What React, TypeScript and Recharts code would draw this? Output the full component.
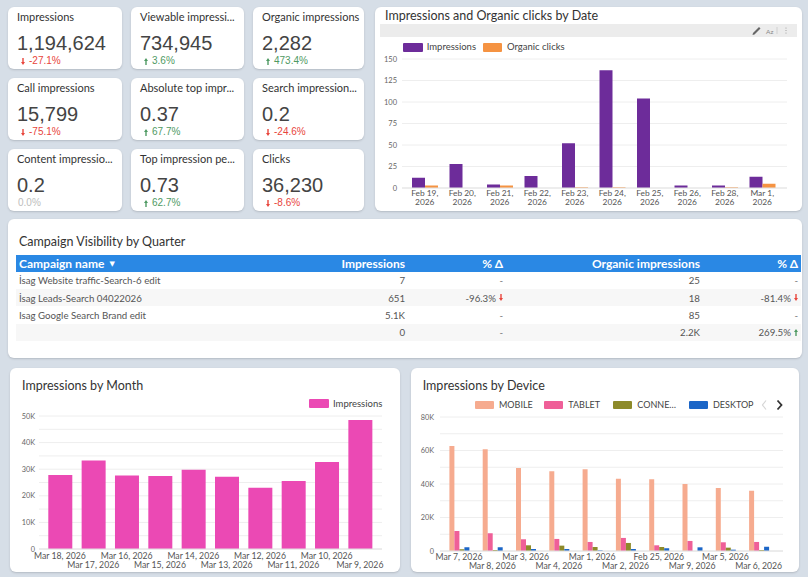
import React from 'react';
import { BarChart, Bar, XAxis, YAxis, CartesianGrid } from 'recharts';

// ---------------- KPI scorecards ----------------
const kpiTitles = [
  'Impressions',
  'Viewable impressi...',
  'Organic impressions',
  'Call impressions',
  'Absolute top impr...',
  'Search impression...',
  'Content impressio...',
  'Top impression pe...',
  'Clicks',
];
const kpiValues = ['1,194,624', '734,945', '2,282', '15,799', '0.37', '0.2', '0.2', '0.73', '36,230'];
const kpiDeltas = ['-27.1%', '3.6%', '473.4%', '-75.1%', '67.7%', '-24.6%', '0.0%', '62.7%', '-8.6%'];
const kpiDirections = ['down', 'up', 'up', 'down', 'up', 'down', 'flat', 'up', 'down'];

// ---------------- Impressions and Organic clicks by Date ----------------
const dateLabels = [
  'Feb 19, 2026', 'Feb 20, 2026', 'Feb 21, 2026', 'Feb 22, 2026', 'Feb 23, 2026',
  'Feb 24, 2026', 'Feb 25, 2026', 'Feb 26, 2026', 'Feb 28, 2026', 'Mar 1, 2026',
];
const dateImpressions = [12, 28, 4, 14, 52, 137, 104, 3, 3, 13];
const dateOrganicClicks = [3, 0, 3, 0, 1, 1, 0, 0, 1, 5];
const dateTicks = [0, 25, 50, 75, 100, 125, 150];

// ---------------- Campaign table ----------------
const campaignNames = ['İsag Website traffic-Search-6 edit', 'İsag Leads-Search 04022026', 'Isag Google Search Brand edit', ''];
const campaignImpressions = ['7', '651', '5.1K', '0'];
const campaignImpressionsDelta = ['-', '-96.3%', '-', '-'];
const campaignOrganic = ['25', '18', '85', '2.2K'];
const campaignOrganicDelta = ['-', '-81.4%', '-', '269.5%'];

// ---------------- Impressions by Month ----------------
const monthLabels = [
  'Mar 18, 2026', 'Mar 17, 2026', 'Mar 16, 2026', 'Mar 15, 2026', 'Mar 14, 2026',
  'Mar 13, 2026', 'Mar 12, 2026', 'Mar 11, 2026', 'Mar 10, 2026', 'Mar 9, 2026',
];
const monthImpressions = [27800, 33300, 27600, 27400, 29800, 27200, 23000, 25600, 32700, 48500];
const monthTicks = [0, 5000, 10000, 15000, 20000, 25000, 30000, 35000, 40000, 45000, 50000];

// ---------------- Impressions by Device ----------------
const deviceLabels = [
  'Mar 7, 2026', 'Mar 8, 2026', 'Mar 3, 2026', 'Mar 4, 2026', 'Mar 1, 2026',
  'Mar 2, 2026', 'Feb 25, 2026', 'Mar 9, 2026', 'Mar 5, 2026', 'Mar 6, 2026',
];
const deviceMobile = [62700, 60700, 49600, 47600, 48800, 43200, 42800, 40000, 37600, 36000];
const deviceTablet = [12000, 10600, 7000, 7200, 5400, 7800, 3400, 6000, 5200, 5400];
const deviceConnected = [1000, 600, 3400, 3200, 2400, 4800, 2400, 0, 2000, 600];
const deviceDesktop = [2200, 2200, 1200, 1200, 400, 1200, 1600, 2200, 800, 2600];
const deviceTicks = [0, 10000, 20000, 30000, 40000, 50000, 60000, 70000, 80000];
const deviceLegend = ['MOBILE', 'TABLET', 'CONNE…', 'DESKTOP'];

// ---------------- styles ----------------
const FONT = 'Lato, "Open Sans", "DejaVu Sans", sans-serif';
const NUM_FONT = '"Liberation Sans", Arial, sans-serif';
const RED = '#e8453c';
const GREEN = '#4f9a63';
const PURPLE = '#6d2c9a';
const ORANGE = '#f59342';
const PINK = '#eb49b4';
const C_MOBILE = '#f6ab8f';
const C_TABLET = '#ef5f98';
const C_CONN = '#8d8a2a';
const C_DESK = '#1c66c7';

const cardStyle = (left: number, top: number, width: number, height: number): React.CSSProperties => ({
  position: 'absolute',
  left,
  top,
  width,
  height,
  background: '#ffffff',
  borderRadius: 6,
  boxShadow: '0 1px 2px rgba(60,64,67,0.22)',
  overflow: 'hidden',
});

function DeltaArrow({ up, color }: { up: boolean; color: string }) {
  return (
    <svg width={4} height={7} viewBox="0 0 4 7" style={{ display: 'block' }}>
      {up ? (
        <path d="M2 0 L4 3 L2.7 3 L2.7 7 L1.3 7 L1.3 3 L0 3 Z" fill={color} />
      ) : (
        <path d="M2 7 L4 4 L2.7 4 L2.7 0 L1.3 0 L1.3 4 L0 4 Z" fill={color} />
      )}
    </svg>
  );
}

function KpiCard({ i }: { i: number }) {
  const col = i % 3;
  const row = Math.floor(i / 3);
  const lefts = [8, 131, 253];
  const widths = [114, 113, 111];
  const tops = [7, 78, 149];
  const dir = kpiDirections[i];
  const color = dir === 'up' ? GREEN : dir === 'down' ? RED : '#bdbdbd';
  return (
    <div style={cardStyle(lefts[col], tops[row], widths[col], 62)}>
      <div style={{ position: 'absolute', left: 9, top: 3, fontFamily: FONT, fontSize: 11, lineHeight: '14px', color: '#333', whiteSpace: 'nowrap' }}>
        {kpiTitles[i]}
      </div>
      <div style={{ position: 'absolute', left: 9, top: 26, fontFamily: NUM_FONT, fontSize: 20, lineHeight: '20px', color: '#444', whiteSpace: 'nowrap' }}>
        {kpiValues[i]}
      </div>
      <div
        style={{
          position: 'absolute',
          left: dir === 'flat' ? 10 : 13,
          top: 49,
          display: 'flex',
          alignItems: 'center',
          gap: 4,
          fontFamily: NUM_FONT,
          fontSize: 10,
          lineHeight: '10px',
          color,
          whiteSpace: 'nowrap',
        }}
      >
        {dir !== 'flat' && <DeltaArrow up={dir === 'up'} color={color} />}
        <span>{kpiDeltas[i]}</span>
      </div>
    </div>
  );
}

function TwoLineTick(props: any) {
  const { x, y, payload } = props;
  const parts = String(payload.value).split(', ');
  return (
    <g>
      <text x={x} y={y + 8.2} textAnchor="middle" fontSize={8.4} fill="#555" fontFamily={FONT}>
        {parts[0] + ','}
      </text>
      <text x={x} y={y + 16.8} textAnchor="middle" fontSize={8.4} fill="#555" fontFamily={FONT}>
        {parts[1]}
      </text>
    </g>
  );
}

function StaggerTick(props: any) {
  const { x, y, payload, index, dy1, dy2 } = props;
  const dy = index % 2 === 0 ? dy1 : dy2;
  return (
    <text x={x} y={y + dy} textAnchor="middle" fontSize={8.7} fill="#555" fontFamily={FONT}>
      {payload.value}
    </text>
  );
}

const Swatch = ({ left, top, w, h, color }: { left: number; top: number; w: number; h: number; color: string }) => (
  <div style={{ position: 'absolute', left, top, width: w, height: h, background: color, borderRadius: 1 }} />
);

const LegendText = ({ left, top, text, size }: { left: number; top: number; text: string; size: number }) => (
  <div style={{ position: 'absolute', left, top, fontFamily: FONT, fontSize: size, lineHeight: '12px', color: '#444', whiteSpace: 'nowrap' }}>{text}</div>
);

function DateChart() {
  const data = dateLabels.map((d, i) => ({ date: d, impressions: dateImpressions[i], organicClicks: dateOrganicClicks[i] }));
  return (
    <div style={cardStyle(375, 7, 427, 204)}>
      <div style={{ position: 'absolute', left: 10, top: 1, fontFamily: FONT, fontSize: 12.5, lineHeight: '16px', color: '#333', whiteSpace: 'nowrap' }}>
        Impressions and Organic clicks by Date
      </div>
      <div style={{ position: 'absolute', left: 5, top: 17, width: 417, height: 13, background: '#ececec' }}>
        <svg width={417} height={13} style={{ position: 'absolute', left: 0, top: 0 }}>
          <path d="M373 9 L379 3 L380.5 4.5 L374.5 10.5 L372.5 11 Z" fill="#666" />
          <text x={386} y={9.5} fontSize={6.5} fill="#888" fontFamily={FONT}>Az</text>
          <line x1={397} y1={3} x2={397} y2={10} stroke="#d0d0d0" />
          <circle cx={406} cy={4} r={0.6} fill="#999" />
          <circle cx={406} cy={6.5} r={0.6} fill="#999" />
          <circle cx={406} cy={9} r={0.6} fill="#999" />
        </svg>
      </div>
      <Swatch left={28} top={35.7} w={19.5} h={9} color={PURPLE} />
      <LegendText left={51.7} top={34} text="Impressions" size={9.5} />
      <Swatch left={108} top={35.7} w={19} h={9} color={ORANGE} />
      <LegendText left={132} top={34} text="Organic clicks" size={9.5} />
      <div style={{ position: 'absolute', left: 0, top: 0 }}>
        <BarChart width={427} height={204} data={data} margin={{ top: 52, right: 15, bottom: 0, left: 0 }} barGap={0} barSize={13}>
          <CartesianGrid vertical={false} stroke="#eeeeee" />
          <XAxis
            dataKey="date"
            height={23}
            interval={0}
            tickLine={false}
            axisLine={{ stroke: '#e3e3e3' }}
            tickSize={0}
            tickMargin={0}
            padding={{ left: 4, right: 6 }}
            tick={<TwoLineTick />}
          />
          <YAxis
            width={27}
            domain={[0, 150]}
            ticks={dateTicks}
            interval={0}
            tickLine={false}
            axisLine={false}
            tickSize={0}
            tickMargin={5}
            tick={{ fontSize: 7.5, fill: '#666', fontFamily: FONT }}
          />
          <Bar dataKey="impressions" fill={PURPLE} isAnimationActive={false} />
          <Bar dataKey="organicClicks" fill={ORANGE} isAnimationActive={false} />
        </BarChart>
      </div>
    </div>
  );
}

function CampaignTable() {
  const rightEdges = [389, 487, 684, 782];
  const rowTop = (r: number) => 16.5 + r * 17.4;
  const cellStyle = (right: number, top: number): React.CSSProperties => ({
    position: 'absolute',
    left: right - 120,
    width: 120,
    top,
    height: 17.4,
    display: 'flex',
    justifyContent: 'flex-end',
    alignItems: 'center',
    gap: 3,
    fontFamily: FONT,
    fontSize: 9.7,
    color: '#555',
    whiteSpace: 'nowrap',
  });
  const deltaCell = (v: string) => {
    if (v === '-') return <span style={{ color: '#777' }}>-</span>;
    const up = !v.startsWith('-');
    return (
      <>
        <span>{v}</span>
        <DeltaArrow up={up} color={up ? GREEN : RED} />
      </>
    );
  };
  return (
    <div style={cardStyle(8, 219, 794, 139)}>
      <div style={{ position: 'absolute', left: 11, top: 14.7, fontFamily: FONT, fontSize: 12.5, lineHeight: '15px', color: '#333', whiteSpace: 'nowrap' }}>
        Campaign Visibility by Quarter
      </div>
      <div style={{ position: 'absolute', left: 8, top: 36, width: 785, height: 87 }}>
        <div style={{ position: 'absolute', left: 0, top: 0, width: 785, height: 16.5, background: '#2a88e4', borderBottom: '1px solid #1f6fc4' }} />
        <div style={{ position: 'absolute', left: 3, top: 0, height: 16.5, display: 'flex', alignItems: 'center', fontFamily: FONT, fontWeight: 700, fontSize: 12, color: '#fff', whiteSpace: 'nowrap' }}>
          Campaign name <span style={{ fontSize: 7, marginLeft: 5 }}>▼</span>
        </div>
        {['Impressions', '% Δ', 'Organic impressions', '% Δ'].map((h, k) => (
          <div key={'h' + k} style={{ ...cellStyle(rightEdges[k], 0), height: 16.5, fontWeight: 700, fontSize: 12, color: '#fff', left: rightEdges[k] - 160, width: 160 }}>
            {h}
          </div>
        ))}
        {campaignNames.map((name, r) => (
          <React.Fragment key={'r' + r}>
            <div style={{ position: 'absolute', left: 0, top: rowTop(r), width: 785, height: 17.4, background: r % 2 === 1 ? '#f7f7f7' : '#ffffff' }} />
            <div style={{ position: 'absolute', left: 3, top: rowTop(r), height: 17.4, display: 'flex', alignItems: 'center', fontFamily: FONT, fontSize: 9.7, color: '#555', whiteSpace: 'nowrap' }}>
              {name}
            </div>
            <div style={cellStyle(rightEdges[0], rowTop(r))}>{campaignImpressions[r]}</div>
            <div style={cellStyle(rightEdges[1], rowTop(r))}>{deltaCell(campaignImpressionsDelta[r])}</div>
            <div style={cellStyle(rightEdges[2], rowTop(r))}>{campaignOrganic[r]}</div>
            <div style={cellStyle(rightEdges[3], rowTop(r))}>{deltaCell(campaignOrganicDelta[r])}</div>
          </React.Fragment>
        ))}
      </div>
    </div>
  );
}

const kFormat = (step: number) => (v: number) => (v === 0 ? '0' : v % step === 0 ? `${v / 1000}K` : '');

function MonthChart() {
  const data = monthLabels.map((m, i) => ({ month: m, impressions: monthImpressions[i] }));
  return (
    <div style={cardStyle(10, 368, 390, 204)}>
      <div style={{ position: 'absolute', left: 12, top: 9.5, fontFamily: FONT, fontSize: 12.5, lineHeight: '16px', color: '#333', whiteSpace: 'nowrap' }}>
        Impressions by Month
      </div>
      <Swatch left={299} top={31} w={20} h={9} color={PINK} />
      <LegendText left={323} top={29.5} text="Impressions" size={9.5} />
      <div style={{ position: 'absolute', left: 0, top: 0 }}>
        <BarChart width={390} height={204} data={data} margin={{ top: 48, right: 18, bottom: 0, left: 0 }} barSize={24}>
          <CartesianGrid vertical={false} stroke="#eeeeee" />
          <XAxis
            dataKey="month"
            height={23}
            interval={0}
            tickLine={false}
            axisLine={{ stroke: '#e0e0e0' }}
            tickSize={0}
            tickMargin={0}
            padding={{ left: 4.3, right: 5.3 }}
            tick={<StaggerTick dy1={10} dy2={19.3} />}
          />
          <YAxis
            width={29}
            domain={[0, 50000]}
            ticks={monthTicks}
            interval={0}
            tickLine={false}
            axisLine={false}
            tickSize={0}
            tickMargin={4}
            tickFormatter={kFormat(10000)}
            tick={{ fontSize: 7.3, fill: '#666', fontFamily: FONT }}
          />
          <Bar dataKey="impressions" fill={PINK} isAnimationActive={false} />
        </BarChart>
      </div>
    </div>
  );
}

function DeviceChart() {
  const data = deviceLabels.map((d, i) => ({
    date: d,
    mobile: deviceMobile[i],
    tablet: deviceTablet[i],
    connected: deviceConnected[i],
    desktop: deviceDesktop[i],
  }));
  const legendColors = [C_MOBILE, C_TABLET, C_CONN, C_DESK];
  const swatchLefts = [64, 133.3, 202.3, 278];
  return (
    <div style={cardStyle(411, 368, 388, 204)}>
      <div style={{ position: 'absolute', left: 11.7, top: 9.5, fontFamily: FONT, fontSize: 12.5, lineHeight: '16px', color: '#333', whiteSpace: 'nowrap' }}>
        Impressions by Device
      </div>
      {deviceLegend.map((t, k) => (
        <React.Fragment key={t}>
          <Swatch left={swatchLefts[k]} top={33} w={19} h={8} color={legendColors[k]} />
          <LegendText left={swatchLefts[k] + 24} top={31} text={t} size={9} />
        </React.Fragment>
      ))}
      <svg width={30} height={14} style={{ position: 'absolute', left: 348, top: 30 }}>
        <polyline points="7,2.5 3.5,7 7,11.5" fill="none" stroke="#d5d5d5" strokeWidth={1.2} />
        <polyline points="18.5,2.5 22.5,7 18.5,11.5" fill="none" stroke="#333" strokeWidth={1.8} />
      </svg>
      <div style={{ position: 'absolute', left: 0, top: 0 }}>
        <BarChart width={388} height={204} data={data} margin={{ top: 49, right: 16, bottom: 0, left: 0 }} barGap={0} barSize={5}>
          <CartesianGrid vertical={false} stroke="#eeeeee" />
          <XAxis
            dataKey="date"
            height={21}
            interval={0}
            tickLine={false}
            axisLine={{ stroke: '#e0e0e0' }}
            tickSize={0}
            tickMargin={0}
            padding={{ left: 2.4, right: 7.6 }}
            tick={<StaggerTick dy1={9} dy2={18.3} />}
          />
          <YAxis
            width={29}
            domain={[0, 80000]}
            ticks={deviceTicks}
            interval={0}
            tickLine={false}
            axisLine={false}
            tickSize={0}
            tickMargin={6}
            tickFormatter={kFormat(20000)}
            tick={{ fontSize: 7.3, fill: '#666', fontFamily: FONT }}
          />
          <Bar dataKey="mobile" fill={C_MOBILE} isAnimationActive={false} />
          <Bar dataKey="tablet" fill={C_TABLET} isAnimationActive={false} />
          <Bar dataKey="connected" fill={C_CONN} isAnimationActive={false} />
          <Bar dataKey="desktop" fill={C_DESK} isAnimationActive={false} />
        </BarChart>
      </div>
    </div>
  );
}

export default function App() {
  return (
    <div style={{ position: 'fixed', left: 0, top: 0, width: 808, height: 577, background: '#d6dee7', overflow: 'hidden' }}>
      {kpiTitles.map((_, i) => (
        <KpiCard key={i} i={i} />
      ))}
      <DateChart />
      <CampaignTable />
      <MonthChart />
      <DeviceChart />
    </div>
  );
}
